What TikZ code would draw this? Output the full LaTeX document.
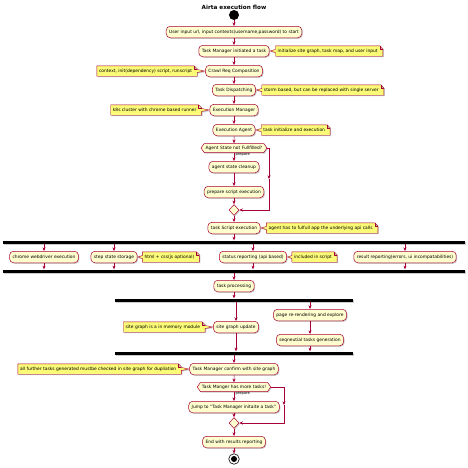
\documentclass[tikz,border=0pt]{standalone}
\usepackage{fontspec}
\setmainfont{DejaVu Sans}
\usepackage{tikz}
\usetikzlibrary{positioning, calc, arrows.meta, shapes.geometric, shapes.symbols, shadows, backgrounds}
\usepackage{xcolor}
\definecolor{umlred}{HTML}{A80036}
\definecolor{umlfill}{HTML}{FEFECE}
\definecolor{notefill}{HTML}{FBFB77}
\newcommand{\fnt}{\fontsize{4.4}{5}\selectfont}

% note frame, pointer to the activity on its left
\newcommand{\noteright}[2]{%
  \begin{pgfonlayer}{background}
  \draw[noteline] (#1.north west) -- ($(#1.north east)+(-3pt,0)$) -- ($(#1.north east)+(0,-3pt)$)
    -- (#1.south east) -- (#1.south west) -- ($(#1.west)+(0,-1.5pt)$)
    -- ($(#2.east)+(0.5pt,0)$) -- ($(#1.west)+(0,1.5pt)$) -- cycle;
  \draw[noteline, fill=none] ($(#1.north east)+(-3pt,0)$) |- ($(#1.north east)+(0,-3pt)$);
  \end{pgfonlayer}
}
% note frame, pointer to the activity on its right
\newcommand{\noteleft}[2]{%
  \begin{pgfonlayer}{background}
  \draw[noteline] (#1.north west) -- ($(#1.north east)+(-3pt,0)$) -- ($(#1.north east)+(0,-3pt)$)
    -- ($(#1.east)+(0,1.5pt)$) -- ($(#2.west)+(-0.5pt,0)$) -- ($(#1.east)+(0,-1.5pt)$)
    -- (#1.south east) -- (#1.south west) -- cycle;
  \draw[noteline, fill=none] ($(#1.north east)+(-3pt,0)$) |- ($(#1.north east)+(0,-3pt)$);
  \end{pgfonlayer}
}

\begin{document}
\begin{tikzpicture}[
  x=1pt, y=-1pt,
  shade/.style={drop shadow={shadow xshift=1pt, shadow yshift=-1pt, fill=black!40, opacity=0.5}},
  act/.style={draw=umlred, fill=umlfill, line width=0.5pt, rounded corners=4pt, font=\fnt,
    inner xsep=3pt, inner ysep=0pt, minimum height=11.5pt, shade},
  note/.style={font=\fnt, inner xsep=2pt, inner ysep=0pt, minimum height=10pt,
    execute at end node={\hspace{3pt}}},
  noteline/.style={draw=umlred, fill=notefill, line width=0.4pt, shade},
  cond/.style={shape=signal, signal to=west and east, signal pointer angle=110, draw=umlred,
    fill=umlfill, line width=0.5pt, font=\fnt, inner xsep=1.5pt, inner ysep=0pt, minimum height=9pt, shade},
  merge/.style={diamond, draw=umlred, fill=umlfill, line width=0.5pt, inner sep=0pt,
    minimum width=10pt, minimum height=11pt, shade},
  bar/.style={fill=black, inner sep=0pt, minimum height=3pt, shade},
  startdot/.style={circle, fill=black, inner sep=0pt, minimum size=10pt},
  stopdot/.style={circle, draw=black, fill=white, line width=0.6pt, inner sep=0pt, minimum size=10.5pt,
    path picture={\fill[black] (path picture bounding box.center) circle (3pt);}},
  flow/.style={draw=umlred, line width=0.5pt, -{Stealth[length=3.5pt, width=3pt, inset=1pt]}},
  line/.style={draw=umlred, line width=0.5pt},
  lbl/.style={font=\fontsize{3.7}{4}\selectfont, inner sep=0.5pt},
  ttl/.style={font=\bfseries\fontsize{5.7}{7}\selectfont}
]
\useasboundingbox (0,0) rectangle (468,467);

\node[ttl] (title) at (234,7) {Airta execution flow};
\node[startdot] (start) at (234,15) {};

\node[act] (a1) at (234,32) {User input url, input contexts(username,password) to start};
\node[act] (a2) at (234,51) {Task Manager initiated a task};
\node[act] (a3) at (234,71) {Crawl Req Composition};
\node[act] (a4) at (234,90) {Task Dispatching};
\node[act] (a5) at (234,110) {Execution Manager};
\node[act] (a6) at (234,130) {Execution Agent};
\node[cond] (if1) at (234,148) {Agent State not Fullfilled?};
\node[act] (a7) at (234,167) {agent state cleanup};
\node[act] (a8) at (234,192) {prepare script execution};
\node[merge] (m1) at (234,210) {};
\node[act] (a9) at (234,228) {task Script execution};

\node[bar, minimum width=462pt] (bar1) at (234,242) {};
\node[act] (b1) at (44,257) {chrome webdriver execution};
\node[act] (b2) at (114,257) {step state storage};
\node[act] (b3) at (253,257) {status reporting (api based)};
\node[act] (b4) at (405,257) {result reporting(errors, ui incompatabilities)};
\node[bar, minimum width=462pt] (bar2) at (234,271) {};

\node[act] (a10) at (234,286) {task processing};
\node[bar, minimum width=238pt] (bar3) at (234,300) {};
\node[act] (c1) at (236,327) {site graph update};
\node[act] (c2) at (310,315) {page re-rendering and explore};
\node[act] (c3) at (310,340) {seqneutial tasks generation};
\node[bar, minimum width=238pt] (bar4) at (234,353) {};

\node[act] (a11) at (234,369) {Task Manager confirm with site graph};
\node[cond] (if2) at (234,387) {Task Manger has more tasks!};
\node[act] (a12) at (234,407) {Jump to "Task Manager initaite a task"};
\node[merge] (m2) at (234,423) {};
\node[act] (a13) at (234,442) {End with results reporting};
\node[stopdot] (stop) at (234,459) {};

% notes
\node[note, right=6pt of a2] (n2) {initialize site graph, task map, and user input};
\node[note, left=8pt of a3] (n3) {context, init(dependency) script, runscript};
\node[note, right=6pt of a4] (n4) {storm based, but can be replaced with single server};
\node[note, left=8pt of a5] (n5) {k8s cluster with chrome based runner};
\node[note, right=6pt of a6] (n6) {task initialize and execution};
\node[note, right=6pt of a9] (n9) {agent has to fulfull app the underlying api calls};
\node[note, right=5pt of b2] (nb2) {html + css(js optional)};
\node[note, right=5pt of b3] (nb3) {included in script};
\node[note, left=8pt of c1] (nc1) {site graph is a in memory module};
\node[note, left=8pt of a11] (n11) {all further tasks generated mustbe checked in site graph for dupliation};

\noteright{n2}{a2}
\noteleft{n3}{a3}
\noteright{n4}{a4}
\noteleft{n5}{a5}
\noteright{n6}{a6}
\noteright{n9}{a9}
\noteright{nb2}{b2}
\noteright{nb3}{b3}
\noteleft{nc1}{c1}
\noteleft{n11}{a11}

% main line
\draw[flow] (start) -- (a1);
\draw[flow] (a1) -- (a2);
\draw[flow] (a2) -- (a3);
\draw[flow] (a3) -- (a4);
\draw[flow] (a4) -- (a5);
\draw[flow] (a5) -- (a6);
\draw[flow] (a6) -- (if1);
\draw[flow] (if1) -- (a7);
\node[lbl, anchor=north west] (p1) at ($(if1.south)+(0.8pt,-0.3pt)$) {prepare};
\draw[flow] (a7) -- (a8);
\draw[flow] (a8) -- (m1);
\coordinate (e1a) at (269,148);
\coordinate (e1b) at (269,210);
\draw[line] (if1.east) -- (e1a);
\draw[flow] (e1a) -- ($(e1a)!0.5!(e1b)$);
\draw[flow] ($(e1a)!0.5!(e1b)$) -- (e1b) -- (m1.east);
\draw[flow] (m1) -- (a9);
\draw[flow] (a9) -- (bar1);

% first fork
\foreach \b in {b1,b2,b3,b4} {
  \draw[flow] (bar1.south -| \b.north) -- (\b.north);
  \draw[flow] (\b.south) -- (\b.south |- bar2.north);
}
\draw[flow] (bar2) -- (a10);
\draw[flow] (a10) -- (bar3);

% second fork
\draw[flow] (bar3.south -| c1.north) -- (c1.north);
\draw[flow] (c1.south) -- (c1.south |- bar4.north);
\draw[flow] (bar3.south -| c2.north) -- (c2.north);
\draw[flow] (c2) -- (c3);
\draw[flow] (c3.south) -- (c3.south |- bar4.north);
\draw[flow] (bar4) -- (a11);

% task loop
\draw[flow] (a11) -- (if2);
\draw[flow] (if2) -- (a12);
\node[lbl, anchor=north west] (p2) at ($(if2.south)+(0.8pt,-0.3pt)$) {prepare};
\draw[flow] (a12) -- (m2);
\coordinate (e2a) at (284,387);
\coordinate (e2b) at (284,423);
\draw[line] (if2.east) -- (e2a);
\draw[flow] (e2a) -- ($(e2a)!0.5!(e2b)$);
\draw[flow] ($(e2a)!0.5!(e2b)$) -- (e2b) -- (m2.east);
\draw[flow] (m2) -- (a13);
\draw[flow] (a13) -- (stop);

\end{tikzpicture}
\end{document}
